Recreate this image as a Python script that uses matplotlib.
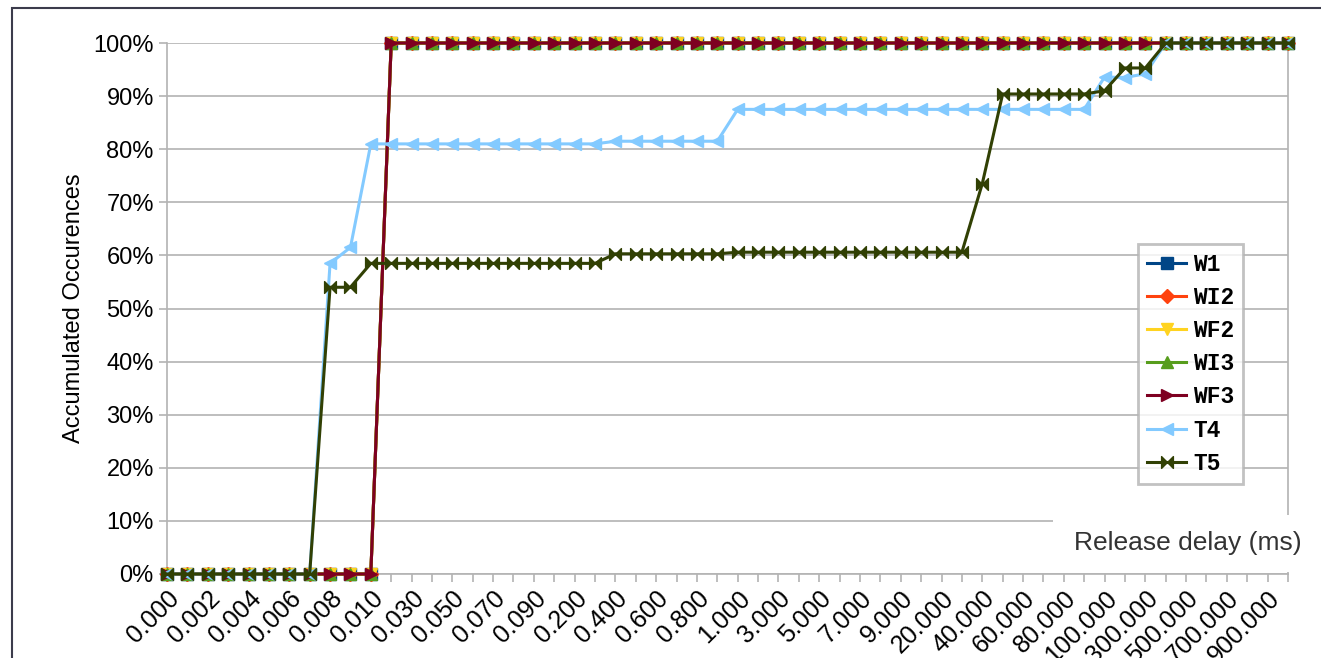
"""Accumulated occurrences of release delay per series (line chart)."""

import matplotlib.pyplot as plt
from matplotlib.patches import Rectangle
from matplotlib.path import Path

plt.rcParams["font.family"] = ["Liberation Sans", "DejaVu Sans"]

categories = [
    "0.000", "0.001", "0.002", "0.003", "0.004", "0.005", "0.006", "0.007",
    "0.008", "0.009", "0.010", "0.020", "0.030", "0.040", "0.050", "0.060",
    "0.070", "0.080", "0.090", "0.100", "0.200", "0.300", "0.400", "0.500",
    "0.600", "0.700", "0.800", "0.900", "1.000", "2.000", "3.000", "4.000",
    "5.000", "6.000", "7.000", "8.000", "9.000", "10.000", "20.000", "30.000",
    "40.000", "50.000", "60.000", "70.000", "80.000", "90.000", "100.000",
    "200.000", "300.000", "400.000", "500.000", "600.000", "700.000",
    "800.000", "900.000", "1000.000",
]

w1 = [0] * 11 + [100] * 45
wi2 = [0] * 11 + [100] * 45
wf2 = [0] * 11 + [100] * 45
wi3 = [0] * 11 + [100] * 45
wf3 = [0] * 11 + [100] * 45
t4 = ([0] * 8 + [58.5, 61.5] + [81.0] * 12 + [81.5] * 6 + [87.5] * 18
      + [93.6, 93.5, 94.2] + [100] * 7)
t5 = ([0] * 8 + [54.0] * 2 + [58.5] * 12 + [60.3] * 6 + [60.6] * 12
      + [73.5] + [90.4] * 5 + [91.0] + [95.3] * 2 + [100] * 7)

# two triangles pointing at the centre
bowtie = Path(
    [(-1, -1), (0, 0), (-1, 1), (-1, -1), (1, -1), (0, 0), (1, 1), (1, -1)],
    [Path.MOVETO, Path.LINETO, Path.LINETO, Path.CLOSEPOLY,
     Path.MOVETO, Path.LINETO, Path.LINETO, Path.CLOSEPOLY],
)

series = [
    ("W1", w1, "#004586", "s"),
    ("WI2", wi2, "#ff420e", "D"),
    ("WF2", wf2, "#ffd320", "v"),
    ("WI3", wi3, "#579d1c", "^"),
    ("WF3", wf3, "#7e0021", ">"),
    ("T4", t4, "#83caff", "<"),
    ("T5", t5, "#314004", bowtie),
]

W, H = 1321, 658
fig = plt.figure(figsize=(W / 100, H / 100), dpi=100)
ax = fig.add_axes([167 / W, 1 - 574 / H, (1288 - 167) / W, (574 - 43) / H])

x = list(range(len(categories)))
for name, vals, color, mk in series:
    ms = 7 if mk == "D" else 8.5
    ax.plot(x, vals, color=color, lw=2.2, marker=mk, ms=ms, label=name,
            clip_on=False, zorder=3)

grid_c = "#b3b3b3"
ax.set_xlim(0, len(categories) - 1)
ax.set_ylim(0, 100)
ax.set_yticks(range(0, 101, 10))
ax.set_yticklabels([f"{v}%" for v in range(0, 101, 10)])
ax.set_xticks(x)
ax.set_xticklabels([c if i % 2 == 0 else "" for i, c in enumerate(categories)],
                   rotation=45, ha="right", rotation_mode="anchor")
ax.yaxis.grid(True, color=grid_c, lw=1.2)
ax.set_axisbelow(True)
for s in ax.spines.values():
    s.set_color(grid_c)
    s.set_linewidth(1.2)
ax.spines["top"].set_visible(False)
ax.tick_params(axis="both", colors=grid_c, labelcolor="black", length=6, width=1.2)
ax.tick_params(axis="y", labelsize=17)
ax.tick_params(axis="x", labelsize=18, pad=3)

ax.set_ylabel("Accumulated Occurences", fontsize=17, labelpad=6)

# white box holding the x-axis title, inside the plot
fig.patches.append(Rectangle((1053 / W, 1 - 572 / H), 300 / W, 57 / H,
                             transform=fig.transFigure, facecolor="white",
                             edgecolor="none", zorder=5))
fig.text(1188 / W, 1 - 543 / H, "Release delay (ms)", fontsize=19,
         color="#333333", ha="center", va="center", zorder=6)

leg = ax.legend(loc="upper left", bbox_to_anchor=(1138 / W, 1 - 244 / H),
                bbox_transform=fig.transFigure, frameon=True, fancybox=False,
                prop={"family": "Liberation Mono", "weight": "bold", "size": 16.5},
                handlelength=1.7, labelspacing=0.44, borderpad=0.4,
                handletextpad=0.3, borderaxespad=0)
leg.get_frame().set_edgecolor(grid_c)
leg.get_frame().set_linewidth(2)
leg.set_zorder(7)

# outer frame of the original picture
fig.patches.append(Rectangle((12 / W, -0.05), 1.1, 1.05 - 8 / H,
                             transform=fig.transFigure, facecolor="none",
                             edgecolor="#3c3c4c", lw=1.5, zorder=0))

fig.savefig("out.png", dpi=100)
